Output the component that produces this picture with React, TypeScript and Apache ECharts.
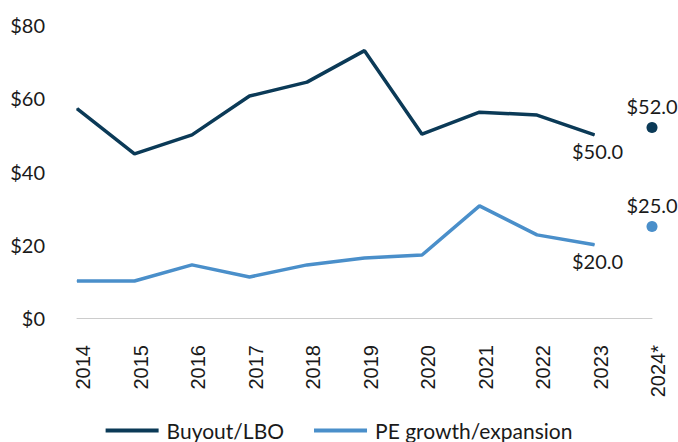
import React, { useEffect, useRef } from "react";
import * as echarts from "echarts";

const years = ["2014", "2015", "2016", "2017", "2018", "2019", "2020", "2021", "2022", "2023", "2024*"];
const buyout = [57.2, 44.8, 50.0, 60.6, 64.4, 73.0, 50.2, 56.2, 55.4, 50.0, null];
const growth = [10.1, 10.1, 14.5, 11.2, 14.5, 16.4, 17.2, 30.6, 22.7, 20.0, null];
const buyout2024 = 52.0;
const growth2024 = 25.0;
const yTicks = [0, 20, 40, 60, 80];

const DARK = "#0b3a57";
const LIGHT = "#4a8fca";

export default function App() {
  const ref = useRef<HTMLDivElement>(null);
  useEffect(() => {
    if (!ref.current) return;
    const chart = echarts.init(ref.current, null, { renderer: "svg" });
    const lastIdx = 9;
    const fmt = (p: any) => "$" + Number(p.value).toFixed(1);
    const mkLine = (vals: (number | null)[]) =>
      vals.map((v, i) =>
        i === lastIdx
          ? {
              value: v,
              label: {
                show: true,
                position: "bottom",
                distance: 6,
                offset: [3, 0],
                formatter: fmt,
              },
            }
          : v
      );
    const mkDot = (v: number) => years.map((_, i) => (i === years.length - 1 ? v : null));
    const labelStyle = {
      fontFamily: "Lato",
      fontSize: 20,
      color: "#1a1a1a",
    };
    chart.setOption({
      animation: false,
      grid: { left: 77, right: 26, top: 25, bottom: 124 },
      xAxis: {
        type: "category",
        data: years,
        boundaryGap: false,
        axisLine: { show: true, lineStyle: { color: "#cccccc", width: 1 } },
        axisTick: { show: false },
        axisLabel: {
          rotate: 90,
          margin: 27,
          fontFamily: "Liberation Sans",
          fontSize: 20,
          color: "#1a1a1a",
          verticalAlign: "top",
          lineHeight: 12,
          interval: 0,
        },
      },
      yAxis: {
        type: "value",
        min: yTicks[0],
        max: yTicks[yTicks.length - 1],
        interval: 20,
        splitLine: { show: false },
        axisLine: { show: false },
        axisTick: { show: false },
        axisLabel: {
          margin: 32,
          fontFamily: "Lato",
          fontSize: 20,
          color: "#1a1a1a",
          formatter: (v: number) => "$" + v,
        },
      },
      legend: {
        data: ["Buyout/LBO", "PE growth/expansion"],
        bottom: -4,
        left: "center",
        itemWidth: 53,
        itemHeight: 4,
        itemGap: 30,
        icon: "rect",
        textStyle: { fontFamily: "Lato", fontSize: 21, color: "#1a1a1a", padding: [0, 0, 0, 3] },
      },
      series: [
        {
          name: "Buyout/LBO",
          type: "line",
          data: mkLine(buyout),
          showSymbol: true,
          symbol: "circle",
          symbolSize: 1,
          lineStyle: { color: DARK, width: 3.5 },
          itemStyle: { color: DARK },
          label: labelStyle,
        },
        {
          name: "PE growth/expansion",
          type: "line",
          data: mkLine(growth),
          showSymbol: true,
          symbol: "circle",
          symbolSize: 1,
          lineStyle: { color: LIGHT, width: 3.5 },
          itemStyle: { color: LIGHT },
          label: labelStyle,
        },
        {
          name: "Buyout 2024",
          type: "scatter",
          data: mkDot(buyout2024),
          symbolSize: 11,
          itemStyle: { color: DARK, opacity: 1 },
          label: {
            ...labelStyle,
            show: true,
            position: "top",
            distance: 6,
            formatter: fmt,
          },
        },
        {
          name: "Growth 2024",
          type: "scatter",
          data: mkDot(growth2024),
          symbolSize: 11,
          itemStyle: { color: LIGHT, opacity: 1 },
          label: {
            ...labelStyle,
            show: true,
            position: "top",
            distance: 6,
            formatter: fmt,
          },
        },
      ],
    });
    return () => chart.dispose();
  }, []);
  return <div ref={ref} style={{ width: 678, height: 442, position: "absolute", left: 0, top: 0 }} />;
}
